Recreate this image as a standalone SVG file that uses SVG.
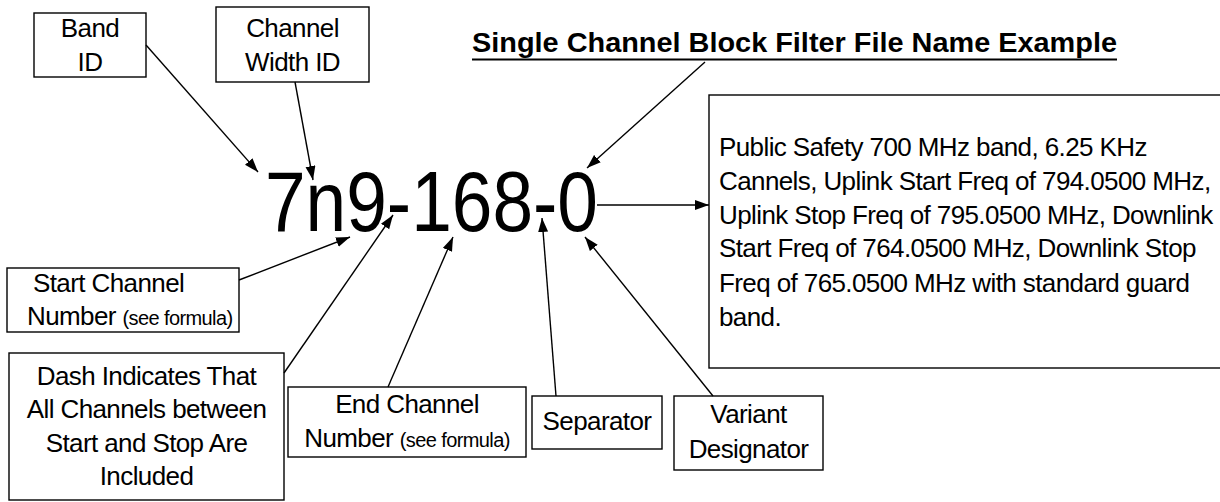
<svg xmlns="http://www.w3.org/2000/svg" width="1220" height="502" viewBox="0 0 1220 502">
<style>
  .box { fill: #fff; stroke: #000; stroke-width: 1.4; }
  .t { font-family: "Liberation Sans", Arial, sans-serif; font-size: 26px; letter-spacing: -0.6px; fill: #000; }
  .c { text-anchor: middle; }
  .s { font-size: 20px; }
  .title { font-size: 27px; font-weight: bold; letter-spacing: 0; }
  .big { font-size: 85px; letter-spacing: 0; }
  .conn line { stroke: #000; stroke-width: 1.4; marker-end: url(#ah); }
</style>
<defs>
  <marker id="ah" markerUnits="userSpaceOnUse" markerWidth="16" markerHeight="12" refX="14" refY="5" orient="auto">
    <path d="M0,0 L14,5 L0,10 Z" fill="#000"/>
  </marker>
</defs>
<rect width="1220" height="502" fill="#fff"/>

<g id="title">
  <text class="t title" x="472" y="52" textLength="645" lengthAdjust="spacingAndGlyphs">Single Channel Block Filter File Name Example</text>
  <rect x="472" y="58.5" width="645" height="2" fill="#000"/>
</g>

<g id="filename">
  <text class="t big" x="265" y="231" textLength="333" lengthAdjust="spacingAndGlyphs">7n9-168-0</text>
</g>

<g id="band-id">
  <rect class="box" x="34" y="13" width="112" height="64"/>
  <text class="t c" x="90" y="37">Band</text>
  <text class="t c" x="90" y="71">ID</text>
</g>

<g id="channel-width-id">
  <rect class="box" x="216" y="7" width="153" height="75"/>
  <text class="t c" x="292.5" y="37">Channel</text>
  <text class="t c" x="292.5" y="71">Width ID</text>
</g>

<g id="description">
  <rect class="box" x="709" y="95" width="530" height="273"/>
  <text class="t" x="719" y="156">Public Safety 700 MHz band, 6.25 KHz</text>
  <text class="t" x="719" y="190">Cannels, Uplink Start Freq of 794.0500 MHz,</text>
  <text class="t" x="719" y="224">Uplink Stop Freq of 795.0500 MHz, Downlink</text>
  <text class="t" x="719" y="257">Start Freq of 764.0500 MHz, Downlink Stop</text>
  <text class="t" x="719" y="292">Freq of 765.0500 MHz with standard guard</text>
  <text class="t" x="719" y="326">band.</text>
</g>

<g id="start-channel">
  <rect class="box" x="7" y="268" width="232" height="64"/>
  <text class="t" x="33" y="292">Start Channel</text>
  <text class="t" x="27" y="325">Number <tspan class="s">(see formula)</tspan></text>
</g>

<g id="dash">
  <rect class="box" x="9" y="353" width="275" height="147"/>
  <text class="t c" x="146.5" y="385">Dash Indicates That</text>
  <text class="t c" x="146.5" y="418">All Channels between</text>
  <text class="t c" x="146.5" y="452">Start and Stop Are</text>
  <text class="t c" x="146.5" y="485">Included</text>
</g>

<g id="end-channel">
  <rect class="box" x="288" y="387" width="238" height="70"/>
  <text class="t c" x="407" y="413">End Channel</text>
  <text class="t c" x="407" y="447">Number <tspan class="s">(see formula)</tspan></text>
</g>

<g id="separator">
  <rect class="box" x="532" y="396" width="130" height="53"/>
  <text class="t c" x="597" y="430">Separator</text>
</g>

<g id="variant">
  <rect class="box" x="674" y="396" width="149" height="74"/>
  <text class="t c" x="748.5" y="423">Variant</text>
  <text class="t c" x="748.5" y="458">Designator</text>
</g>

<g class="conn" id="connectors">
  <line x1="146" y1="45" x2="258" y2="172"/>
  <line x1="295" y1="82" x2="313" y2="180"/>
  <line x1="705" y1="62" x2="587" y2="168"/>
  <line x1="597" y1="205" x2="709" y2="205"/>
  <line x1="239" y1="280" x2="350" y2="237"/>
  <line x1="284" y1="373" x2="393" y2="215"/>
  <line x1="388" y1="387" x2="453" y2="237"/>
  <line x1="556" y1="396" x2="542" y2="218"/>
  <line x1="713" y1="396" x2="585" y2="237"/>
</g>
</svg>
